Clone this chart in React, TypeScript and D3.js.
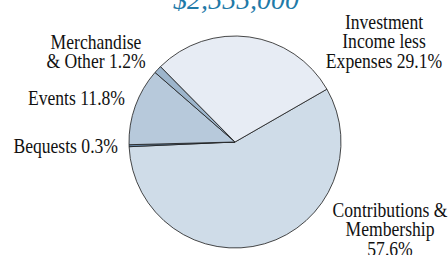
import { useEffect, useRef } from 'react'
import * as d3 from 'd3'

// slices in clockwise order, starting from the Investment/Contributions boundary
const categories = ['Contributions & Membership', 'Bequests', 'Events', 'Merchandise & Other', 'Investment Income less Expenses']
const shares = [57.6, 0.3, 11.8, 1.2, 29.1]
const sliceColors = ['#cfdce8', '#6d8fb0', '#b7c9db', '#9db5cc', '#e7ecf4']
const labelLines = [
  ['Contributions &', 'Membership', '57.6%'],
  ['Bequests 0.3%'],
  ['Events 11.8%'],
  ['Merchandise', '& Other 1.2%'],
  ['Investment', 'Income less', 'Expenses 29.1%'],
]
const title = '$2,555,000'

const W = 448
const H = 255

export default function App() {
  const svgRef = useRef<SVGSVGElement>(null)

  useEffect(() => {
    if (!svgRef.current) return
    const svg = d3.select(svgRef.current)
    svg.selectAll('*').remove()

    const cx = 235
    const cy = 142
    const r = 106
    const start = (60.1 * Math.PI) / 180

    const pie = d3.pie<number>().sort(null).value(d => d)
      .startAngle(start).endAngle(start + 2 * Math.PI)
    const arc = d3.arc<d3.PieArcDatum<number>>().innerRadius(0).outerRadius(r)

    const g = svg.append('g').attr('transform', `translate(${cx},${cy})`)
    g.selectAll('path')
      .data(pie(shares))
      .join('path')
      .attr('d', arc)
      .attr('fill', (_, i) => sliceColors[i])
      .attr('stroke', '#1a1a1a')
      .attr('stroke-width', 0.8)
      .attr('stroke-linejoin', 'round')

    // title, mostly cut off by the top edge
    svg.append('text')
      .attr('x', 236)
      .attr('y', 9)
      .attr('text-anchor', 'middle')
      .attr('font-family', 'Liberation Serif, serif')
      .attr('font-style', 'italic')
      .attr('font-size', 28)
      .attr('fill', '#1f7aa8')
      .text(title)

    // label anchors: [x, first baseline, anchor]
    const labelPos: [number, number, string][] = [
      [390, 217, 'middle'],
      [118, 153, 'end'],
      [125, 105, 'end'],
      [96, 49, 'middle'],
      [384, 29, 'middle'],
    ]
    const lineH = 19.5
    const sx = 0.88

    labelLines.forEach((lines, i) => {
      const [x, y, anchor] = labelPos[i]
      const t = svg.append('text')
        .attr('transform', `translate(${x},${y}) scale(${sx},1)`)
        .attr('text-anchor', anchor)
        .attr('font-family', 'Liberation Serif, serif')
        .attr('font-size', 20)
        .attr('fill', '#111')
        .attr('data-category', categories[i])
      lines.forEach((ln, j) => {
        t.append('tspan').attr('x', 0).attr('y', j * lineH).text(ln)
      })
    })
  }, [])

  return (
    <svg ref={svgRef} width={W} height={H}
      style={{ position: 'absolute', left: 0, top: 0, background: '#fff' }} />
  )
}
